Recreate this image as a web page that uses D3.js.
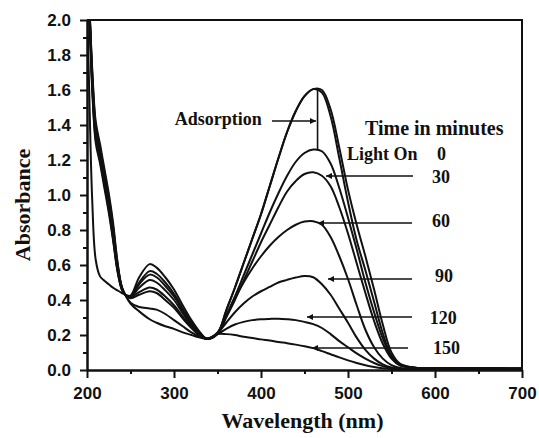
<!DOCTYPE html>
<html>
<head>
<meta charset="utf-8">
<script src="https://cdn.jsdelivr.net/npm/d3@7"></script>
<style>
body { margin: 0; background: #fff; }
.tick text { font-family: 'Liberation Sans', Arial, sans-serif; font-weight: bold; font-size: 17px; fill: #111; }
.serif { font-family: 'Liberation Serif', 'Times New Roman', serif; font-weight: bold; fill: #111; }
</style>
</head>
<body>
<svg id="canvas" width="539" height="438"></svg>
<script>
// wavelength grid (nm)
let wavelengths = [200, 203, 206, 210, 215, 220, 225, 230, 235, 240, 244,
  250, 260, 272, 280, 290, 300, 310, 320, 330, 338,
  350, 360, 370, 380, 390, 400, 410, 420, 430, 440, 450, 460, 470, 480, 490, 500, 510, 520, 530, 540, 550, 560, 580, 600, 650, 700]

// absorbance of each spectrum, one value per wavelength
let adsorption = [2.15, 1.5, 0.97, 0.63, 0.535, 0.51, 0.49, 0.47, 0.455, 0.44, 0.43,
  0.425, 0.53, 0.605, 0.585, 0.53, 0.46, 0.37, 0.285, 0.215, 0.178,
  0.21, 0.34, 0.47, 0.61, 0.75, 0.89, 1.05, 1.21, 1.36, 1.48, 1.565, 1.605, 1.6, 1.49, 1.27, 1.03, 0.83, 0.65, 0.46, 0.26, 0.1, 0.035, 0.012, 0.01, 0.01, 0.008]
let adsorption2 = [2.25, 1.98, 1.6, 1.3, 1.18, 1.04, 0.9, 0.74, 0.565, 0.46, 0.43,
  0.42, 0.5, 0.565, 0.55, 0.5, 0.435, 0.35, 0.27, 0.21, 0.178,
  0.21, 0.34, 0.47, 0.61, 0.75, 0.89, 1.05, 1.21, 1.36, 1.48, 1.565, 1.605, 1.585, 1.45, 1.21, 0.96, 0.74, 0.57, 0.39, 0.21, 0.08, 0.03, 0.012, 0.01, 0.01, 0.008]
let min0 = [2.25, 2.0, 1.62, 1.32, 1.2, 1.06, 0.92, 0.75, 0.57, 0.46, 0.43,
  0.42, 0.49, 0.545, 0.53, 0.48, 0.42, 0.34, 0.265, 0.205, 0.178,
  0.205, 0.31, 0.42, 0.54, 0.66, 0.78, 0.9, 1.01, 1.11, 1.19, 1.24, 1.26, 1.25, 1.18, 1.04, 0.87, 0.69, 0.5, 0.33, 0.18, 0.075, 0.028, 0.012, 0.01, 0.01, 0.008]
let min30 = [2.26, 2.01, 1.64, 1.34, 1.21, 1.07, 0.93, 0.76, 0.58, 0.465, 0.43,
  0.418, 0.47, 0.514, 0.5, 0.455, 0.4, 0.325, 0.255, 0.2, 0.178,
  0.205, 0.3, 0.4, 0.51, 0.62, 0.73, 0.83, 0.93, 1.02, 1.08, 1.12, 1.13, 1.11, 1.05, 0.93, 0.78, 0.61, 0.44, 0.28, 0.15, 0.065, 0.025, 0.012, 0.01, 0.01, 0.008]
let min60 = [2.27, 2.02, 1.66, 1.36, 1.23, 1.09, 0.95, 0.78, 0.59, 0.47, 0.43,
  0.415, 0.445, 0.472, 0.46, 0.42, 0.37, 0.305, 0.245, 0.198, 0.178,
  0.215, 0.31, 0.41, 0.5, 0.58, 0.65, 0.71, 0.76, 0.8, 0.83, 0.848, 0.85, 0.83, 0.76, 0.65, 0.52, 0.37, 0.23, 0.13, 0.065, 0.028, 0.012, 0.008, 0.008, 0.008, 0.006]
let min90 = [2.28, 2.03, 1.68, 1.38, 1.25, 1.11, 0.97, 0.8, 0.6, 0.475, 0.43,
  0.41, 0.43, 0.45, 0.44, 0.4, 0.355, 0.295, 0.24, 0.195, 0.178,
  0.21, 0.27, 0.33, 0.38, 0.42, 0.45, 0.475, 0.5, 0.515, 0.528, 0.537, 0.53, 0.49, 0.43, 0.35, 0.27, 0.185, 0.115, 0.065, 0.032, 0.014, 0.007, 0.005, 0.006, 0.006, 0.005]
let min120 = [2.29, 2.04, 1.7, 1.4, 1.27, 1.13, 0.99, 0.82, 0.61, 0.47, 0.43,
  0.385, 0.36, 0.352, 0.345, 0.32, 0.285, 0.25, 0.215, 0.19, 0.178,
  0.205, 0.235, 0.26, 0.275, 0.285, 0.29, 0.292, 0.293, 0.29, 0.285, 0.275, 0.262, 0.24, 0.205, 0.165, 0.13, 0.095, 0.065, 0.04, 0.022, 0.01, 0.005, 0.004, 0.005, 0.005, 0.005]
let min150 = [2.3, 2.05, 1.72, 1.42, 1.29, 1.15, 1.01, 0.84, 0.62, 0.475, 0.43,
  0.38, 0.335, 0.29, 0.27, 0.25, 0.235, 0.215, 0.2, 0.185, 0.178,
  0.205, 0.205, 0.2, 0.19, 0.183, 0.175, 0.168, 0.16, 0.153, 0.145, 0.136, 0.125, 0.108, 0.09, 0.072, 0.055, 0.04, 0.027, 0.017, 0.01, 0.006, 0.004, 0.004, 0.005, 0.005, 0.005]

let spectra = [adsorption, adsorption2, min0, min30, min60, min90, min120, min150]

let xTicks = [200, 300, 400, 500, 600, 700]
let xMinorTicks = [250, 350, 450, 550, 650]
let yTicks = [0, 0.2, 0.4, 0.6, 0.8, 1.0, 1.2, 1.4, 1.6, 1.8, 2.0]
let yMinorTicks = [0.1, 0.3, 0.5, 0.7, 0.9, 1.1, 1.3, 1.5, 1.7, 1.9]

// annotations in data units: label text, label position, arrow from/to
let timeLabels = ['30', '60', '90', '120', '150']
let labelX = [596.6, 596.6, 600, 594, 597.7]
let labelY = [1.069, 0.817, 0.503, 0.263, 0.091]
let arrowY = [1.109, 0.84, 0.52, 0.303, 0.126]
let arrowFrom = [574.7, 573.6, 573.6, 573.6, 569]
let arrowTo = [474.7, 465.5, 477, 452.9, 458.6]

let canvas = d3.select('#canvas')

let plotLeft = 87, plotRight = 522, plotTop = 20, plotBottom = 370

let xScale = d3.scaleLinear().domain([200, 700]).range([plotLeft, plotRight])
let yScale = d3.scaleLinear().domain([0, 2]).range([plotBottom, plotTop])

let defs = canvas.append('defs')
defs.append('clipPath').attr('id', 'plot')
  .append('rect')
  .attr('x', plotLeft).attr('y', plotTop)
  .attr('width', plotRight - plotLeft).attr('height', plotBottom - plotTop)

defs.append('marker')
  .attr('id', 'head')
  .attr('viewBox', '0 0 10 10')
  .attr('refX', 10).attr('refY', 5)
  .attr('markerWidth', 9).attr('markerHeight', 6)
  .attr('markerUnits', 'userSpaceOnUse')
  .attr('orient', 'auto')
  .append('path')
  .attr('d', 'M0,0 L10,5 L0,10 Z')
  .attr('fill', '#111')

let line = d3.line()
  .x((d, i) => xScale(wavelengths[i]))
  .y((d) => yScale(d))
  .curve(d3.curveCatmullRom.alpha(0.5))

canvas.append('g')
  .attr('clip-path', 'url(#plot)')
  .selectAll('path')
  .data(spectra)
  .enter()
  .append('path')
  .attr('d', line)
  .attr('fill', 'none')
  .attr('stroke', '#111')
  .attr('stroke-width', 2)

// axes
let xAxis = d3.axisBottom(xScale).tickValues(xTicks).tickFormat(d3.format('d'))
  .tickSize(8).tickSizeOuter(0).tickPadding(9)
let xMinor = d3.axisBottom(xScale).tickValues(xMinorTicks).tickFormat('')
  .tickSize(4).tickSizeOuter(0)
let yAxis = d3.axisLeft(yScale).tickValues(yTicks).tickFormat(d3.format('.1f'))
  .tickSize(7).tickSizeOuter(0).tickPadding(9)
let yMinor = d3.axisLeft(yScale).tickValues(yMinorTicks).tickFormat('')
  .tickSize(4).tickSizeOuter(0)

let axes = [
  [xAxis, 'translate(0,' + plotBottom + ')'],
  [xMinor, 'translate(0,' + plotBottom + ')'],
  [yAxis, 'translate(' + plotLeft + ',0)'],
  [yMinor, 'translate(' + plotLeft + ',0)']
]
axes.forEach((a) => {
  let g = canvas.append('g').attr('transform', a[1]).call(a[0])
  g.selectAll('line').attr('stroke', '#111').attr('stroke-width', 2)
  g.select('.domain').attr('stroke', '#111').attr('stroke-width', 2)
})

// frame top and right
canvas.append('path')
  .attr('d', 'M' + plotLeft + ',' + plotTop + 'H' + plotRight + 'V' + plotBottom)
  .attr('fill', 'none')
  .attr('stroke', '#111')
  .attr('stroke-width', 2)

// axis titles
canvas.append('text')
  .attr('class', 'serif')
  .attr('x', (plotLeft + plotRight) / 2 - 2)
  .attr('y', 428)
  .attr('text-anchor', 'middle')
  .style('font-size', '22px')
  .text('Wavelength (nm)')

canvas.append('text')
  .attr('class', 'serif')
  .attr('transform', 'translate(30,205) rotate(-90)')
  .attr('text-anchor', 'middle')
  .style('font-size', '22px')
  .text('Absorbance')

// annotations
let note = (txt, wx, ay, size) => {
  canvas.append('text')
    .attr('class', 'serif')
    .attr('x', xScale(wx))
    .attr('y', yScale(ay))
    .style('font-size', size + 'px')
    .text(txt)
}

note('Adsorption', 301, 1.40, 18)
note('Time in minutes', 519.5, 1.343, 20)
note('Light On', 498.9, 1.2, 18)
note('0', 602.3, 1.2, 18)

let arrow = (x1, x2, ay) => {
  canvas.append('line')
    .attr('x1', xScale(x1)).attr('x2', xScale(x2))
    .attr('y1', yScale(ay)).attr('y2', yScale(ay))
    .attr('stroke', '#111')
    .attr('stroke-width', 1.6)
    .attr('marker-end', 'url(#head)')
}

arrow(412.6, 463.2, 1.423)

// vertical link between adsorption peak and light-on peak
canvas.append('line')
  .attr('x1', xScale(465)).attr('x2', xScale(465))
  .attr('y1', yScale(1.61)).attr('y2', yScale(1.26))
  .attr('stroke', '#111')
  .attr('stroke-width', 1.6)

timeLabels.forEach((t, i) => {
  arrow(arrowFrom[i], arrowTo[i], arrowY[i])
  note(t, labelX[i], labelY[i], 18)
})
</script>
</body>
</html>
